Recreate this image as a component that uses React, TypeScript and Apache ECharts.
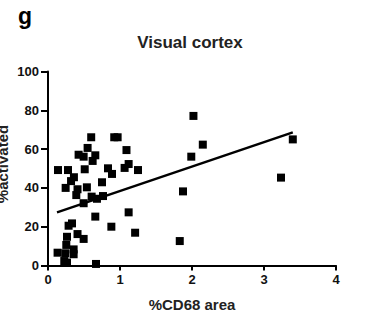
import React, { useEffect, useRef } from "react";
import * as echarts from "echarts";

const xTicks = [0, 1, 2, 3, 4];
const yTicks = [0, 20, 40, 60, 80, 100];
const cd68Area = [
  2.02, 2.15, 1.99, 1.875, 1.83, 0.6, 0.92, 0.967, 0.55, 1.09, 0.425, 0.495, 0.657, 0.62, 0.51,
  0.139, 0.278, 0.36, 0.32, 0.833, 0.889, 1.064, 1.12, 1.25, 0.245, 0.41, 0.393, 0.54, 0.75,
  0.606, 0.68, 0.764, 0.495, 0.657, 1.12, 0.88, 1.21, 0.333, 0.286, 0.41, 0.495, 0.264, 0.254,
  0.133, 0.24, 0.356, 0.226, 0.264, 0.356, 0.667, 3.236, 3.4,
];
const activated = [
  77.1, 62.3, 56.1, 38.2, 12.6, 66.1, 66.1, 66.1, 60.6, 59.5, 57.1, 56.1, 56.8, 53.9, 49.6,
  49.2, 49.2, 45.5, 43.5, 50.1, 47.2, 50.3, 52.3, 49.2, 40, 39.3, 36.3, 40.3, 42.9,
  35.5, 34.4, 35.8, 32.1, 25.2, 27.4, 20, 16.9, 21.7, 20.5, 16.2, 13.7, 14.8, 10.6,
  6.6, 6.3, 5.8, 2.3, 1.5, 8.3, 0.8, 45.3, 65.0,
];
const fitSlope = 12.6;
const fitIntercept = 25.8;
const fitRange = [0.125, 3.4];

const FONT = "'Liberation Sans', Arial, Helvetica, sans-serif";

export default function App() {
  const ref = useRef<HTMLDivElement>(null);
  useEffect(() => {
    document.body.style.margin = "0";
    const chart = echarts.init(ref.current!, null, { renderer: "svg" });
    const points = cd68Area.map((x, i) => [x, activated[i]]);
    const fit = fitRange.map((x) => [x, fitIntercept + fitSlope * x]);
    chart.setOption({
      animation: false,
      backgroundColor: "#ffffff",
      grid: { left: 48, right: 39, top: 71.5, bottom: 61.5 },
      graphic: [
        {
          type: "text",
          left: 18,
          top: 4,
          style: { text: "g", font: `bold 23px ${FONT}`, fill: "#000" },
        },
        {
          type: "text",
          x: 190,
          y: 42.5,
          style: {
            text: "Visual cortex",
            font: `bold 17px ${FONT}`,
            fill: "#222",
            align: "center",
            verticalAlign: "middle",
          },
        },
        {
          type: "text",
          x: 192,
          y: 304.5,
          style: {
            text: "%CD68 area",
            font: `bold 15px ${FONT}`,
            fill: "#222",
            align: "center",
            verticalAlign: "middle",
          },
        },
        {
          type: "text",
          x: 2,
          y: 164,
          rotation: Math.PI / 2,
          style: {
            text: "%activated",
            font: `bold 15px ${FONT}`,
            fill: "#222",
            align: "center",
            verticalAlign: "middle",
          },
        },
      ],
      xAxis: {
        type: "value",
        min: xTicks[0],
        max: xTicks[xTicks.length - 1],
        interval: 1,
        axisLine: { show: true, onZero: false, lineStyle: { color: "#000", width: 2 } },
        axisTick: { show: true, length: 5, lineStyle: { color: "#000", width: 2 } },
        axisLabel: {
          margin: 7,
          color: "#111",
          fontFamily: FONT,
          fontWeight: "bold",
          fontSize: 13,
        },
        splitLine: { show: false },
      },
      yAxis: {
        type: "value",
        min: yTicks[0],
        max: yTicks[yTicks.length - 1],
        interval: 20,
        axisLine: { show: true, onZero: false, lineStyle: { color: "#000", width: 2 } },
        axisTick: { show: true, length: 7, lineStyle: { color: "#000", width: 2 } },
        axisLabel: {
          margin: 9,
          color: "#111",
          fontFamily: FONT,
          fontWeight: "bold",
          fontSize: 13,
        },
        splitLine: { show: false },
      },
      series: [
        {
          type: "scatter",
          data: points,
          symbol: "rect",
          symbolSize: 8,
          itemStyle: { color: "#000", opacity: 1 },
          z: 3,
        },
        {
          type: "line",
          data: fit,
          showSymbol: false,
          symbol: "none",
          lineStyle: { color: "#000", width: 2.5 },
          z: 2,
        },
      ],
    });
    return () => chart.dispose();
  }, []);
  return <div ref={ref} style={{ width: 375, height: 327 }} />;
}
